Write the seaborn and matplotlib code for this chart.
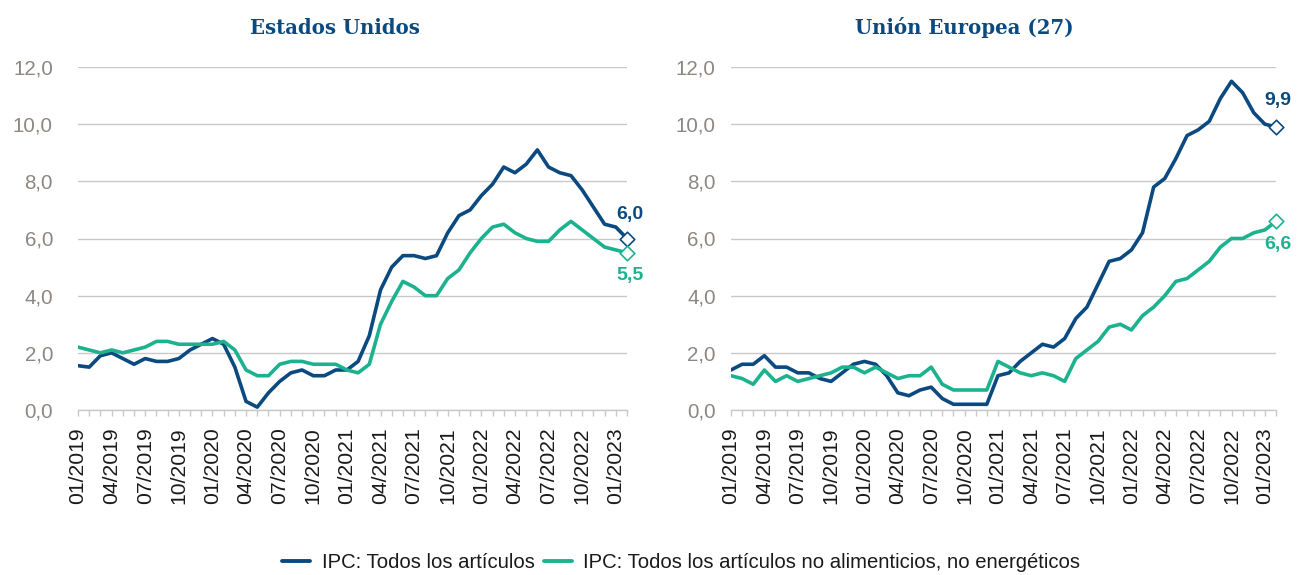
import numpy as np
import pandas as pd
import matplotlib.pyplot as plt
import seaborn as sns
from matplotlib.lines import Line2D
from matplotlib.ticker import FuncFormatter

# meses 01/2019 .. 02/2023
months = pd.date_range("2019-01-01", "2023-02-01", freq="MS").strftime("%m/%Y").tolist()

us_all = [1.55, 1.5, 1.9, 2.0, 1.8, 1.6, 1.8, 1.7, 1.7, 1.8, 2.1, 2.3,
          2.5, 2.3, 1.5, 0.3, 0.1, 0.6, 1.0, 1.3, 1.4, 1.2, 1.2, 1.4,
          1.4, 1.7, 2.6, 4.2, 5.0, 5.4, 5.4, 5.3, 5.4, 6.2, 6.8, 7.0,
          7.5, 7.9, 8.5, 8.3, 8.6, 9.1, 8.5, 8.3, 8.2, 7.7, 7.1, 6.5,
          6.4, 6.0]
us_core = [2.2, 2.1, 2.0, 2.1, 2.0, 2.1, 2.2, 2.4, 2.4, 2.3, 2.3, 2.3,
           2.3, 2.4, 2.1, 1.4, 1.2, 1.2, 1.6, 1.7, 1.7, 1.6, 1.6, 1.6,
           1.4, 1.3, 1.6, 3.0, 3.8, 4.5, 4.3, 4.0, 4.0, 4.6, 4.9, 5.5,
           6.0, 6.4, 6.5, 6.2, 6.0, 5.9, 5.9, 6.3, 6.6, 6.3, 6.0, 5.7,
           5.6, 5.5]
eu_all = [1.4, 1.6, 1.6, 1.9, 1.5, 1.5, 1.3, 1.3, 1.1, 1.0, 1.3, 1.6,
          1.7, 1.6, 1.2, 0.6, 0.5, 0.7, 0.8, 0.4, 0.2, 0.2, 0.2, 0.2,
          1.2, 1.3, 1.7, 2.0, 2.3, 2.2, 2.5, 3.2, 3.6, 4.4, 5.2, 5.3,
          5.6, 6.2, 7.8, 8.1, 8.8, 9.6, 9.8, 10.1, 10.9, 11.5, 11.1, 10.4,
          10.0, 9.9]
eu_core = [1.2, 1.1, 0.9, 1.4, 1.0, 1.2, 1.0, 1.1, 1.2, 1.3, 1.5, 1.5,
           1.3, 1.5, 1.3, 1.1, 1.2, 1.2, 1.5, 0.9, 0.7, 0.7, 0.7, 0.7,
           1.7, 1.5, 1.3, 1.2, 1.3, 1.2, 1.0, 1.8, 2.1, 2.4, 2.9, 3.0,
           2.8, 3.3, 3.6, 4.0, 4.5, 4.6, 4.9, 5.2, 5.7, 6.0, 6.0, 6.2,
           6.3, 6.6]

serie_all = "IPC: Todos los artículos"
serie_core = "IPC: Todos los artículos no alimenticios, no energéticos"

BLUE = "#0b4a80"
GREEN = "#1db28f"
GRID = "#c9c9c9"

sns.set_theme(style="white")
plt.rcParams["font.family"] = ["Liberation Sans", "DejaVu Sans"]


def panel_df(all_vals, core_vals):
    n = len(months)
    return pd.DataFrame({
        "idx": list(range(n)) * 2,
        "valor": all_vals + core_vals,
        "serie": [serie_all] * n + [serie_core] * n,
    })


def draw_panel(ax, all_vals, core_vals, ylab_pad, offsets):
    df = panel_df(all_vals, core_vals)
    sns.lineplot(data=df, x="idx", y="valor", hue="serie",
                 palette=[BLUE, GREEN], linewidth=2.6, ax=ax, legend=False)
    last = len(months) - 1
    for vals, col, off in [(all_vals, BLUE, offsets[0]), (core_vals, GREEN, offsets[1])]:
        ax.scatter([last], [vals[-1]], marker="D", s=55, facecolor="white",
                   edgecolor=col, linewidth=1.2, zorder=5, clip_on=False)
        ax.annotate(f"{vals[-1]:.1f}".replace(".", ","), (last, vals[-1]),
                    xytext=off, textcoords="offset pixels", ha="center", va="center",
                    fontsize=14, fontweight="bold", color=col, annotation_clip=False)

    ax.set_xlim(0, last)
    ax.set_ylim(0, 12)
    ax.set_yticks(np.arange(0, 13, 2))
    ax.yaxis.set_major_formatter(FuncFormatter(lambda v, p: f"{v:.1f}".replace(".", ",")))
    ax.set_xticks(range(0, len(months), 3))
    ax.set_xticklabels(months[::3], rotation=90)
    ax.set_xticks(range(len(months)), minor=True)
    ax.yaxis.grid(True, color=GRID, linewidth=1)
    ax.set_axisbelow(True)
    for side in ["top", "right", "left"]:
        ax.spines[side].set_visible(False)
    ax.spines["bottom"].set_color(GRID)
    ax.spines["bottom"].set_linewidth(1)
    ax.tick_params(axis="x", which="both", direction="out", length=4.5, width=1,
                   color=GRID, bottom=True)
    ax.tick_params(axis="x", which="major", labelsize=15.2, labelcolor="#1a1a1a", pad=8)
    ax.tick_params(axis="y", length=0, labelsize=14.8, labelcolor="#8d8783", pad=ylab_pad)
    ax.set_xlabel("")
    ax.set_ylabel("")


fig = plt.figure(figsize=(12.97, 5.75), dpi=100)
W, H = 1297, 575
ax1 = fig.add_axes([78 / W, 165 / H, 549 / W, 343 / H])
ax2 = fig.add_axes([731 / W, 165 / H, 545 / W, 343 / H])

draw_panel(ax1, us_all, us_core, 18, [(3, 24), (3, -23)])
draw_panel(ax2, eu_all, eu_core, 11, [(2, 27), (2, -23)])

for xc, title in [(335, "Estados Unidos"), (964, "Unión Europea (27)")]:
    fig.text(xc / W, 1 - 28 / H, title, ha="center", va="center", fontsize=14.2,
             fontweight="heavy", color=BLUE, family=["DejaVu Serif"])

handles = [Line2D([], [], color=BLUE, linewidth=2.8), Line2D([], [], color=GREEN, linewidth=2.8)]
fig.legend(handles, [serie_all, serie_core], loc="center", bbox_to_anchor=(681 / W, 12 / H),
           ncol=2, frameon=False, fontsize=14.6, handlelength=1.4, handletextpad=0.55,
           columnspacing=0.45, labelcolor="#1a1a1a")

fig.savefig("out.png", dpi=100)
